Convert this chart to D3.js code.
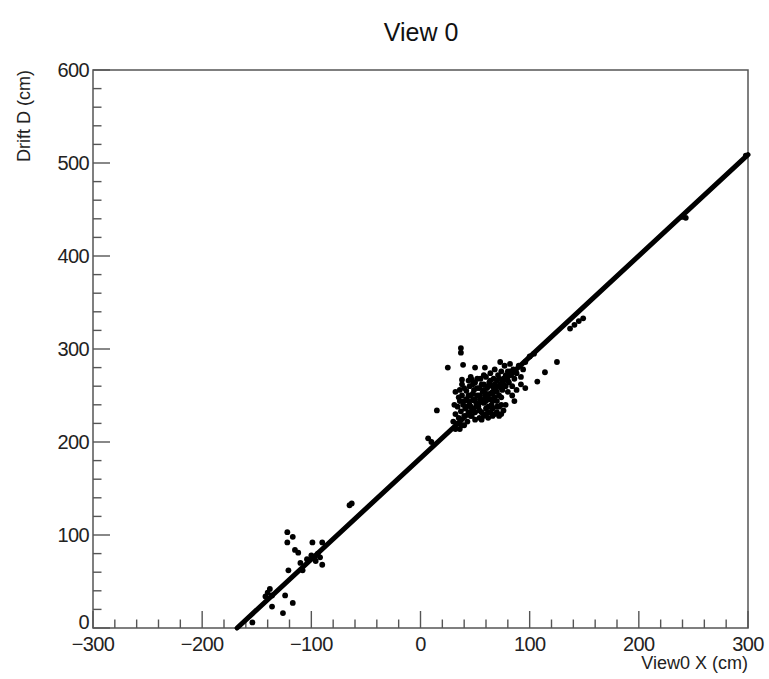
<!DOCTYPE html>
<html>
<head>
<meta charset="utf-8">
<script src="https://cdn.jsdelivr.net/npm/d3@7"></script>
<style>
  html, body { margin: 0; padding: 0; background: #fff; }
  svg { display: block; font-family: "Liberation Sans", Arial, Helvetica, sans-serif; }
</style>
</head>
<body>
<svg id="chart" width="769" height="679"></svg>
<script>
// Axis ranges and tick labels
const xDomain = [-300, 300];
const yDomain = [0, 600];
const xTickValues = [-300, -200, -100, 0, 100, 200, 300];
const yTickValues = [0, 100, 200, 300, 400, 500, 600];

// Fitted track line (View0 X vs Drift D)
const trackX = [-168, 300];
const trackY = [0, 509];

// Reconstructed hits: X positions (cm)
const hitX = [
  30, 32, 34, 35, 36, 37, 38, 38, 39, 40, 41, 42, 42, 43, 44, 45, 45, 46, 47, 48,
  48, 49, 50, 50, 51, 52, 53, 54, 55, 55, 56, 57, 58, 58, 59, 60, 60, 61, 62, 63,
  64, 64, 65, 66, 67, 68, 68, 69, 70, 71, 72, 73, 74, 75, 76, 77, 78, 79, 80, 81,
  82, 83, 84, 85, 86, 88, 90, 92, 94, 96,
  44, 46, 48, 50, 52, 52, 54, 54, 56, 56, 58, 60, 60, 62, 62, 64, 64, 66, 66, 68,
  70, 70, 72, 74, 74, 76, 78, 80, 82, 40, 42, 46, 50, 54, 70, 74, 80, 62, 56, 44,
  48, 52, 58, 46, 40, 36,
  58, 60, 62, 64, 66, 68, 70, 72, 74, 76, 66, 72, 78,
  32, 34, 36, 38, 40, 44, 35, 31,
  84, 88, 92, 96, 86,
  37, 37, 25, 39, 50, 59, 38, 47, 15, 32, 73, 125, 114, 107, 100, 104, 7, 10,
  -122, -117, -122, -115, -112, -99, -90, -97, -100, -94, -96, -92, -90, -121, -108,
  -65, -63, -140, -142, -138, -136, -124, -117, -136, -126, -154, -104, -110,
  137, 141, 145, 149, 240, 243, 298
];

// Reconstructed hits: drift distance D (cm)
const hitY = [
  222, 230, 238, 226, 244, 233, 218, 250, 240, 228, 236, 246, 255, 222, 232, 240, 260, 250, 228, 236,
  245, 256, 264, 232, 242, 250, 238, 258, 246, 268, 232, 254, 242, 262, 250, 270, 236, 258, 246, 264,
  252, 274, 240, 260, 268, 248, 278, 256, 266, 272, 250, 262, 276, 256, 268, 282, 260, 270, 276, 264,
  284, 272, 260, 278, 268, 274, 282, 270, 278, 286,
  244, 238, 252, 246, 240, 258, 234, 250, 262, 244, 256, 244, 252, 260, 238, 246, 266, 252, 244, 262,
  254, 244, 268, 258, 248, 262, 272, 266, 276, 244, 238, 228, 224, 226, 238, 240, 254, 232, 224, 250,
  262, 268, 272, 270, 218, 214,
  228, 230, 226, 232, 228, 230, 232, 228, 230, 234, 236, 238, 240,
  214, 220, 256, 262, 258, 266, 248, 240,
  250, 256, 262, 258, 244,
  301, 296, 280, 283, 280, 280, 267, 267, 234, 254, 286, 286, 275, 265, 292, 295, 204, 200,
  103, 98, 92, 84, 81, 92, 92, 76, 78, 80, 72, 76, 68, 62, 62,
  132, 134, 38, 34, 42, 35, 35, 27, 23, 16, 6, 74, 70,
  322, 326, 330, 333, 442, 441, 508
];

const svg = d3.select("#chart");
const frame = { left: 93, right: 748, top: 70, bottom: 628 };

const x = d3.scaleLinear().domain(xDomain).range([frame.left, frame.right]);
const y = d3.scaleLinear().domain(yDomain).range([frame.bottom, frame.top]);

const axisColor = "#555";
const labelColor = "#222";
const labelSize = 20;

// Frame
svg.append("rect")
  .attr("x", frame.left).attr("y", frame.top)
  .attr("width", frame.right - frame.left)
  .attr("height", frame.bottom - frame.top)
  .attr("fill", "none").attr("stroke", axisColor).attr("stroke-width", 1.5);

// Minor and major ticks drawn inward
const xMinor = d3.range(xDomain[0], xDomain[1] + 1, 20);
const yMinor = d3.range(yDomain[0], yDomain[1] + 1, 20);
const ticks = svg.append("g").attr("stroke", axisColor).attr("stroke-width", 1.4);

ticks.selectAll("line.xt").data(xMinor).join("line")
  .attr("x1", d => x(d)).attr("x2", d => x(d))
  .attr("y1", frame.bottom)
  .attr("y2", d => frame.bottom - (d % 100 === 0 ? 17 : 8.5));

ticks.selectAll("line.yt").data(yMinor).join("line")
  .attr("y1", d => y(d)).attr("y2", d => y(d))
  .attr("x1", frame.left)
  .attr("x2", d => frame.left + (d % 100 === 0 ? 17 : 8.5));

// Tick labels
svg.append("g").selectAll("text").data(xTickValues).join("text")
  .attr("x", d => x(d)).attr("y", 651)
  .attr("text-anchor", "middle")
  .attr("font-size", labelSize).attr("fill", labelColor)
  .attr("letter-spacing", -0.6)
  .text(d => d < 0 ? "\u2212" + Math.abs(d) : d);

svg.append("g").selectAll("text").data(yTickValues).join("text")
  .attr("x", 89).attr("y", d => y(d) + (d === 0 ? 1 : 7))
  .attr("text-anchor", "end")
  .attr("font-size", labelSize).attr("fill", labelColor)
  .attr("letter-spacing", -0.6)
  .text(d => d);

// Titles
svg.append("text")
  .attr("x", 421).attr("y", 41)
  .attr("text-anchor", "middle")
  .attr("font-size", 25).attr("fill", "#111")
  .text("View 0");

svg.append("text")
  .attr("x", frame.right).attr("y", 669)
  .attr("text-anchor", "end")
  .attr("font-size", 18).attr("fill", labelColor)
  .text("View0 X (cm)");

svg.append("text")
  .attr("transform", `translate(30, ${frame.top}) rotate(-90)`)
  .attr("text-anchor", "end")
  .attr("font-size", 18).attr("fill", labelColor)
  .text("Drift D (cm)");

// Fitted track
const track = trackX.map((v, i) => [v, trackY[i]]);
svg.append("path")
  .datum(track)
  .attr("d", d3.line().x(d => x(d[0])).y(d => y(d[1])))
  .attr("stroke", "#000").attr("stroke-width", 5)
  .attr("stroke-linecap", "round").attr("fill", "none");

// Hits
const hits = hitX.map((v, i) => [v, hitY[i]]);
svg.append("g").selectAll("circle").data(hits).join("circle")
  .attr("cx", d => x(d[0])).attr("cy", d => y(d[1]))
  .attr("r", 2.9).attr("fill", "#000");
</script>
</body>
</html>
